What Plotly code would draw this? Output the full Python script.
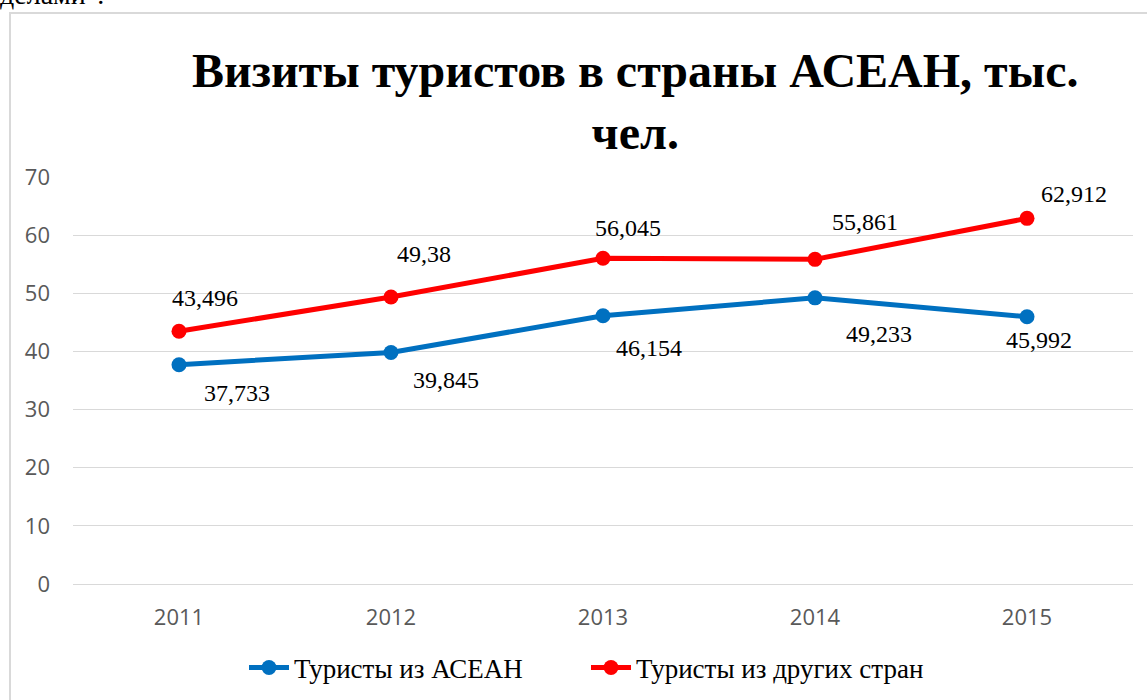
import plotly.graph_objects as go

years = [2011, 2012, 2013, 2014, 2015]
year_labels = ["2011", "2012", "2013", "2014", "2015"]
asean = [37.733, 39.845, 46.154, 49.233, 45.992]
other = [43.496, 49.38, 56.045, 55.861, 62.912]
asean_labels = ["37,733", "39,845", "46,154", "49,233", "45,992"]
other_labels = ["43,496", "49,38", "56,045", "55,861", "62,912"]
y_ticks = [0, 10, 20, 30, 40, 50, 60, 70]

W, H = 1147, 700
L, R, T, B = 73, 14, 177, 116
pw, ph = W - L - R, H - T - B

def px(x):
    return (x - L) / pw

def py(y):
    return (H - B - y) / ph

BLUE = "#0070C0"
RED = "#FF0000"
serif = "Liberation Serif, Times New Roman, serif"

fig = go.Figure()
fig.add_trace(go.Scatter(x=years, y=asean, name="Туристы из АСЕАН", mode="lines+markers",
                         line=dict(color=BLUE, width=5), marker=dict(size=15, color=BLUE)))
fig.add_trace(go.Scatter(x=years, y=other, name="Туристы из других стран", mode="lines+markers",
                         line=dict(color=RED, width=5), marker=dict(size=15, color=RED)))

annotations = []
other_off = [(26, 33), (33, 43), (25, 30), (50, 37), (47, 24)]
asean_off = [(58, -28), (55, -28), (46, -32), (64, -36), (12, -23)]
for i, yr in enumerate(years):
    annotations.append(dict(x=yr, y=other[i], text=other_labels[i], showarrow=False,
                            xshift=other_off[i][0], yshift=other_off[i][1],
                            font=dict(family=serif, size=24, color="#000000")))
    annotations.append(dict(x=yr, y=asean[i], text=asean_labels[i], showarrow=False,
                            xshift=asean_off[i][0], yshift=asean_off[i][1],
                            font=dict(family=serif, size=24, color="#000000")))

annotations.append(dict(xref="paper", yref="paper", x=px(635), y=py(101), xanchor="center", yanchor="middle",
                        text="<b>Визиты туристов в страны АСЕАН, тыс.<br>чел.</b>", showarrow=False,
                        align="center", font=dict(family=serif, size=48, color="#000000")))
annotations.append(dict(xref="paper", yref="paper", x=px(-2), y=py(12), xanchor="left", yanchor="bottom",
                        text="делами\".", showarrow=False,
                        font=dict(family=serif, size=28, color="#000000")))

shapes = [dict(type="rect", xref="paper", yref="paper", x0=px(10), x1=px(1160), y0=py(720), y1=py(13),
               line=dict(color="#D9D9D9", width=2), fillcolor="rgba(0,0,0,0)", layer="below")]

fig.update_layout(
    width=W, height=H,
    margin=dict(l=L, r=R, t=T, b=B, pad=0, autoexpand=False),
    paper_bgcolor="white", plot_bgcolor="white",
    showlegend=True,
    legend=dict(orientation="h", x=px(244), xanchor="left", y=py(668), yanchor="middle",
                font=dict(family=serif, size=27, color="#000000"), itemwidth=40,
                entrywidth=287, entrywidthmode="pixels",
                bgcolor="rgba(0,0,0,0)"),
    xaxis=dict(type="linear", range=[2010.5, 2015.5], tickvals=years, ticktext=year_labels,
               showgrid=False, showline=False, zeroline=False, ticks="",
               tickfont=dict(family="Open Sans, sans-serif", size=22, color="#595959"),
               ticklabelstandoff=18),
    yaxis=dict(range=[0, 70.03], tickvals=y_ticks, showgrid=True, gridcolor="#D9D9D9", gridwidth=1,
               zeroline=True, zerolinecolor="#D9D9D9", zerolinewidth=1, showline=False, ticks="",
               ticklabelstandoff=22,
               tickfont=dict(family="Open Sans, sans-serif", size=22, color="#595959")),
    annotations=annotations,
    shapes=shapes,
)
fig.write_html("out.html", config={"displayModeBar": False},
               post_script="document.body.style.margin='0';document.body.style.overflow='hidden';")
